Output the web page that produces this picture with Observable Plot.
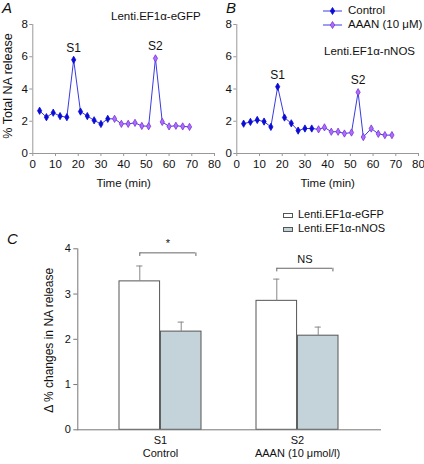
<!DOCTYPE html>
<html><head><meta charset="utf-8">
<script src="https://cdn.jsdelivr.net/npm/d3@7"></script>
<script src="https://cdn.jsdelivr.net/npm/@observablehq/plot@0.6"></script>
<style>
body{margin:0;background:#fff;}
#wrap{position:relative;width:424px;height:464px;overflow:hidden;font-family:"Liberation Sans",Arial,sans-serif;color:#111;font-size:11.5px;}
.abs{position:absolute;white-space:nowrap;line-height:1;}
.letter{position:absolute;font-style:italic;font-size:15px;line-height:1;}
svg{overflow:visible;}
</style></head><body><div id="wrap"></div>
<script>
// ---- Panel A (Lenti.EF1α-eGFP) ----
const ctrlTimeA = [3,6,9,12,15,18,21,24,27,30,33];
const ctrlValA  = [2.65,2.25,2.53,2.32,2.25,5.81,2.6,2.32,2.06,1.83,2.15];
const aaanTimeA = [36,39,42,45,48,51,54,57,60,63,66,69];
const aaanValA  = [2.15,1.84,1.84,1.9,1.71,1.69,5.9,1.96,1.68,1.72,1.68,1.65];
// ---- Panel B (Lenti.EF1α-nNOS) ----
const ctrlTimeB = [3,6,9,12,15,18,21,24,27,30,33];
const ctrlValB  = [1.85,1.96,2.08,1.98,1.65,4.14,2.23,1.87,1.42,1.55,1.55];
const aaanTimeB = [36,38.6,41.6,44.6,47.4,50.5,53.4,55.7,59.2,62.3,65.2,68.3];
const aaanValB  = [1.5,1.62,1.35,1.35,1.24,1.3,3.8,1.02,1.55,1.22,1.14,1.14];
const peakLabels = ["S1","S2"];
const timeTicks = [0,10,20,30,40,50,60,70,80];
const releaseTicks = [0,2,4,6,8];
// ---- Panel C ----
const groups = ["S1","S2"];
const groupLabels = ["S1\nControl","S2\nAAAN (10 μmol/l)"];
const seriesNames = ["Lenti.EF1α-eGFP","Lenti.EF1α-nNOS"];
const egfpMean = [3.28,2.85];
const egfpSem  = [0.34,0.48];
const nnosMean = [2.17,2.08];
const nnosSem  = [0.21,0.19];
const sigLabels = ["*","NS"];
const sigLevels = [3.91,3.57];
const changeTicks = [0,1,2,3,4];

const font = '"Liberation Sans", Arial, sans-serif';
const wrap = document.getElementById("wrap");

function place(el, left, top) {
  el.style.position = "absolute"; el.style.left = left + "px"; el.style.top = top + "px";
  wrap.appendChild(el);
}
function addText(txt, left, top, cls, extra) {
  const d = document.createElement("div");
  d.className = cls || "abs"; d.textContent = txt;
  if (extra) Object.assign(d.style, extra);
  place(d, left, top);
}

function linePanel(cT, cV, aT, aV, yLabel) {
  const ctrl = cT.map((t,i)=>({time:t, value:cV[i]}));
  const aaan = aT.map((t,i)=>({time:t, value:aV[i]}));
  const all = ctrl.concat(aaan);
  const peaks = [d3.greatest(ctrl, d=>d.value), d3.greatest(aaan, d=>d.value)]
    .map((d,i)=>({...d, label: peakLabels[i]}));
  return Plot.plot({
    width: 220, height: 195,
    marginLeft: 32.3, marginRight: 6, marginTop: 24, marginBottom: 42,
    style: {fontFamily: font, fontSize: "11.5px", background: "transparent", color: "#111", overflow: "visible"},
    x: {domain: [0,80]},
    y: {domain: [0,8]},
    marks: [
      Plot.ruleX([0], {stroke: "#999"}),
      Plot.ruleY([0], {stroke: "#999"}),
      Plot.axisX({ticks: timeTicks, tickSize: 3, tickPadding: 3, stroke: "#999", label: "Time (min)", labelAnchor: "center", labelOffset: 33, labelArrow: "none"}),
      Plot.axisY({ticks: releaseTicks, tickSize: 3, tickPadding: 2, stroke: "#999", label: null}),
      yLabel ? Plot.text([yLabel], {text: d=>d, frameAnchor: "left", textAnchor: "middle", lineAnchor: "middle", dx: -25, dy: -3, rotate: -90, fontSize: 12.5, fill: "#111"}) : null,
      Plot.line(all, {x: "time", y: "value", stroke: "#3a3ae2", strokeWidth: 1}),
      Plot.dot(ctrl, {x: "time", y: "value", symbol: "diamond", r: 2.2, fill: "#0b0bd6", stroke: "#0b0bd6", strokeWidth: 0.8}),
      Plot.dot(aaan, {x: "time", y: "value", symbol: "diamond", r: 2.2, fill: "#b36bff", stroke: "#7436d6", strokeWidth: 0.8}),
      Plot.text(peaks, {x: "time", y: "value", text: "label", dy: -12, fontSize: 12, fill: "#111"})
    ]
  });
}

const pA = linePanel(ctrlTimeA, ctrlValA, aaanTimeA, aaanValA, "% Total NA release");
place(pA, 0, 0);
const pB = linePanel(ctrlTimeB, ctrlValB, aaanTimeB, aaanValB, null);
place(pB, 204, 0);

// Panel C
const W = 424, mL = 77.3, mR = 43, pi = 0.398, po = 0.3025;
const step = (W - mL - mR) / (groups.length - pi + 2*po);
const bw = step * (1 - pi);
const egfp = groups.map((g,i)=>({group:g, mean:egfpMean[i], sem:egfpSem[i]}));
const nnos = groups.map((g,i)=>({group:g, mean:nnosMean[i], sem:nnosSem[i]}));
const sig = groups.map((g,i)=>({group:g, label:sigLabels[i], level:sigLevels[i]}));
const labelOf = Object.fromEntries(groups.map((g,i)=>[g, groupLabels[i]]));
const capHalf = 3.5;
const bracketRight = bw/2 - 6;
const pC = Plot.plot({
  width: W, height: 264,
  marginLeft: mL, marginRight: mR, marginTop: 48.3, marginBottom: 34.7,
  style: {fontFamily: font, fontSize: "11px", background: "transparent", color: "#111", overflow: "visible"},
  x: {domain: groups, paddingInner: pi, paddingOuter: po},
  y: {domain: [0,4]},
  marks: [
    Plot.barY(egfp, {x: "group", y: "mean", insetRight: bw/2, fill: "#ffffff", stroke: "#555", strokeWidth: 1}),
    Plot.barY(nnos, {x: "group", y: "mean", insetLeft: bw/2, fill: "#c4d3da", stroke: "#555", strokeWidth: 1}),
    Plot.ruleX(egfp, {x: "group", y1: "mean", y2: d=>d.mean+d.sem, dx: -bw/4, stroke: "#888"}),
    Plot.ruleX(nnos, {x: "group", y1: "mean", y2: d=>d.mean+d.sem, dx: bw/4, stroke: "#888"}),
    Plot.tickY(egfp, {x: "group", y: d=>d.mean+d.sem, insetLeft: bw/4-capHalf, insetRight: 3*bw/4-capHalf, stroke: "#888"}),
    Plot.tickY(nnos, {x: "group", y: d=>d.mean+d.sem, insetLeft: 3*bw/4-capHalf, insetRight: bw/4-capHalf, stroke: "#888"}),
    Plot.ruleY(sig, {x1: "group", x2: "group", y: "level", insetLeft: bw/4, insetRight: 6, stroke: "#666"}),
    Plot.ruleX(sig, {x: "group", y1: "level", y2: d=>d.level-0.08, dx: -bw/4, stroke: "#666"}),
    Plot.ruleX(sig, {x: "group", y1: "level", y2: d=>d.level-0.08, dx: bracketRight, stroke: "#666"}),
    Plot.text(sig, {x: "group", y: "level", text: "label", dx: (bracketRight - bw/4)/2, dy: -9, fontSize: 11, fill: "#111"}),
    Plot.ruleY([0], {stroke: "#777"}),
    Plot.frame({anchor: "left", stroke: "#777"}),
    Plot.axisX({tickSize: 0, tickPadding: 5, tickFormat: d=>labelOf[d], lineHeight: 1.2, label: null}),
    Plot.axisY({ticks: changeTicks, tickFormat: d3.format("d"), tickSize: 4, tickPadding: 3, stroke: "#777", label: null}),
    Plot.text(["Δ % changes in NA release"], {text: d=>d, frameAnchor: "left", textAnchor: "middle", lineAnchor: "middle", dx: -28.5, dy: 1, rotate: -90, fontSize: 12, fill: "#111"})
  ]
});
place(pC, 0, 200);

// Letters and titles
addText("A", 2, 0, "letter");
addText("B", 226, 0, "letter");
addText("C", 7, 231, "letter");
addText("Lenti.EF1α-eGFP", 111, 11);
addText("Lenti.EF1α-nNOS", 324, 46);

// Legend B
function legendRow(left, top, fill, stroke, text) {
  const s = document.createElementNS("http://www.w3.org/2000/svg","svg");
  s.setAttribute("width", 20); s.setAttribute("height", 10);
  s.innerHTML = `<line x1="0" y1="5" x2="19" y2="5" stroke="#3a3ae2" stroke-width="1"/>` +
    `<path d="M9.5,1.5 L11.7,5 L9.5,8.5 L7.3,5 Z" fill="${fill}" stroke="${stroke}" stroke-width="0.8"/>`;
  place(s, left, top);
  addText(text, left + 25, top - 1);
}
legendRow(323, 6, "#0b0bd6", "#0b0bd6", "Control");
legendRow(323, 20, "#b36bff", "#7436d6", "AAAN (10 μM)");

// Legend C
function swatch(left, top, fill, text) {
  const d = document.createElement("div");
  Object.assign(d.style, {width: "10px", height: "5px", background: fill, border: "0.8px solid #555", boxSizing: "border-box"});
  place(d, left, top);
  addText(text, left + 15, top - 3.5, "abs", {fontSize: "11px"});
}
swatch(283, 212.7, "#ffffff", seriesNames[0]);
swatch(283, 226.5, "#c4d3da", seriesNames[1]);
</script></body></html>
